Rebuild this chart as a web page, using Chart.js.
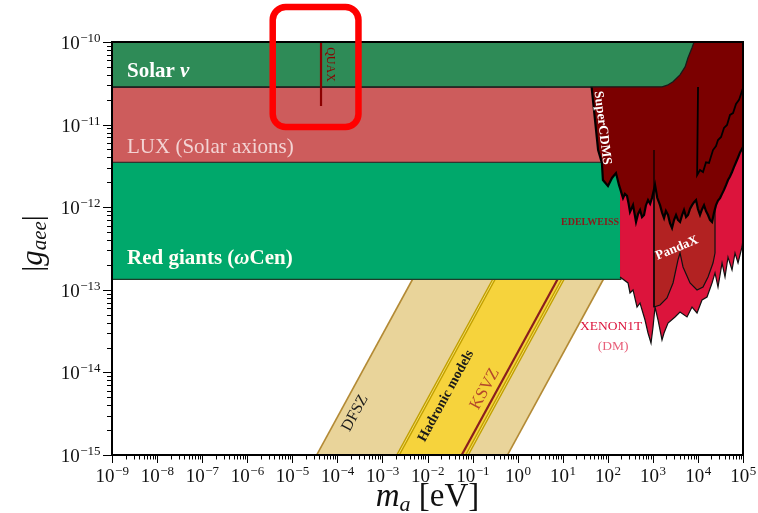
<!DOCTYPE html>
<html>
<head>
<meta charset="utf-8">
<script src="https://cdn.jsdelivr.net/npm/chart.js@4.4.1/dist/chart.umd.min.js"></script>
<style>
  html, body { margin: 0; padding: 0; background: #ffffff; }
  #wrap { width: 758px; height: 513px; }
</style>
</head>
<body>
<div id="wrap"><canvas id="c" width="758" height="513"></canvas></div>
<script>
// ---- axis ranges and tick decades ----
const massRange = [1e-9, 1e5];          // m_a [eV]
const couplingRange = [1e-15, 1e-10];   // |g_aee|
const massDecades = [-9, -8, -7, -6, -5, -4, -3, -2, -1, 0, 1, 2, 3, 4, 5];
const couplingDecades = [-15, -14, -13, -12, -11, -10];

// ---- QCD axion bands: edges as [m_a, g_aee] (g ∝ m_a) ----
const dfszLow = [[3.48e-6, 1e-16], [5.22e-3, 1.5e-13]];
const dfszHigh = [[0.0596, 1e-16], [89.4, 1.5e-13]];
const hadronicLow = [[2.22e-4, 1e-16], [0.333, 1.5e-13]];
const hadronicHigh = [[7.53e-3, 1e-16], [11.3, 1.5e-13]];
const ksvzLine = [[5.74e-3, 1e-16], [8.61, 1.5e-13]];

// ---- astrophysical bounds ----
const solarNu = [
  [5e-10, 1.2e-10], [5e-10, 2.85e-11], [1600, 2.87e-11], [2100, 3.0e-11],
  [2800, 3.3e-11], [4000, 4.0e-11], [5200, 5.0e-11], [6000, 6.4e-11],
  [7400, 8.5e-11], [8200, 1.0e-10], [8600, 1.2e-10]
];
const luxSolar = [[5e-10, 2.85e-11], [150, 2.85e-11], [150, 3.5e-12], [5e-10, 3.5e-12], [5e-10, 2.85e-11]];
const redGiants = [[5e-10, 3.5e-12], [195, 3.5e-12], [195, 1.34e-13], [5e-10, 1.34e-13], [5e-10, 3.5e-12]];

// ---- haloscope ----
const quax = [[4.34e-5, 1.2e-10], [4.34e-5, 1.68e-11]];

// ---- direct detection (dark matter) ----
const superCDMS = [
  [34, 1.1e-10], [44, 2.77e-11], [61, 4.92e-12], [74, 3.43e-12], [78, 2.13e-12],
  [101, 1.81e-12], [124, 2.26e-12], [152, 2.59e-12], [177, 1.86e-12], [218, 1.29e-12],
  [240, 1.45e-12], [267, 1.37e-12], [290, 1.1e-12], [311, 8.75e-13], [363, 1.06e-12],
  [395, 8.2e-13], [423, 6.62e-13], [470, 8.3e-13], [519, 9.25e-13], [575, 7.6e-13],
  [637, 8.05e-13], [700, 1.05e-12], [781, 1.22e-12], [870, 1.1e-12], [957, 1.29e-12],
  [1117, 1.86e-12], [1250, 1.3e-12], [1443, 1.06e-12], [1600, 8.6e-13], [1770, 7.4e-13],
  [1950, 9.0e-13], [2170, 8.05e-13], [2400, 6.4e-13], [2661, 5.6e-13], [2950, 7.0e-13],
  [3266, 8.05e-13], [3600, 7.0e-13], [4009, 6.62e-13], [4450, 8.0e-13], [4912, 9.25e-13],
  [5450, 7.6e-13], [6026, 8.05e-13], [6700, 9.6e-13], [7396, 1.06e-12], [8200, 1.15e-12],
  [9080, 1.22e-12], [10000, 9.5e-13], [11120, 8.05e-13], [12300, 9.4e-13], [13650, 1.06e-12],
  [15100, 9.0e-13], [16750, 8.05e-13], [18500, 7.0e-13], [20560, 6.62e-13], [22800, 8.6e-13],
  [25200, 1.06e-12], [27900, 1.2e-12], [30900, 1.29e-12], [34300, 1.45e-12], [37900, 1.62e-12],
  [42000, 1.85e-12], [46500, 2.13e-12], [51500, 2.35e-12], [57100, 2.67e-12], [63000, 3.05e-12],
  [70000, 3.5e-12], [77600, 4.0e-12], [85900, 4.6e-12], [1e5, 5.36e-12],
  [1.2e5, 5.36e-12], [1.2e5, 1.2e-10]
];
const xenonUpper = [
  [10050, 2.85e-11], [9600, 2.45e-12], [11120, 2.82e-12], [12970, 2.67e-12], [15100, 3.5e-12],
  [17620, 3.43e-12], [21600, 4.92e-12], [25200, 5.5e-12], [27900, 6.5e-12], [32600, 7.08e-12],
  [37900, 9.1e-12], [44200, 9.89e-12], [51500, 1.31e-11], [60100, 1.38e-11], [70000, 1.78e-11],
  [81600, 1.99e-11], [1e5, 2.77e-11]
];
const pandaX = [
  [1060, 4.92e-12], [1060, 6.19e-14], [1443, 6.55e-14], [2061, 7.96e-14], [2803, 1.21e-13],
  [3614, 2.3e-13], [4009, 2.79e-13], [4670, 1.89e-13], [6683, 1.21e-13], [9550, 9.95e-14],
  [12970, 1.08e-13], [16750, 1.43e-13], [21600, 2.11e-13], [23930, 2.79e-13], [23930, 4.92e-12]
];
const xenon1T = [
  [187, 4.92e-12], [187, 1.43e-13], [281, 1.21e-13], [311, 9.15e-14], [363, 9.95e-14],
  [445, 6.19e-14], [519, 6.92e-14], [670, 4.31e-14], [781, 3.0e-14], [910, 2.27e-14],
  [1009, 3.55e-14], [1117, 6.19e-14], [1303, 4.31e-14], [1596, 2.47e-14], [1770, 3.0e-14],
  [2170, 3.96e-14], [3104, 4.69e-14], [4009, 5.38e-14], [5728, 4.69e-14], [7396, 6.19e-14],
  [9550, 5.24e-14], [12330, 7.53e-14], [15920, 8.18e-14], [20560, 1.21e-13], [23930, 1.6e-13],
  [27900, 1.08e-13], [34300, 2.11e-13], [39900, 1.43e-13], [46500, 2.49e-13], [57100, 1.74e-13],
  [66500, 2.79e-13], [77600, 2.11e-13], [95000, 3.3e-13], [1e5, 4.01e-13],
  [1.2e5, 4.01e-13], [1.2e5, 4.92e-12]
];

// ---- colours ----
const C = {
  tan: '#E9D49A', tanEdge: '#B38A35', yellow: '#F6D33C', yellowEdge: '#C2A000',
  ksvz: '#8A1E1E', solar: '#2E8B57', lux: '#CD5C5C', rg: '#00A86B',
  maroon: '#7B0000', panda: '#B22222', xenon: '#DC143C', quax: '#8B0000'
};
const SERIF = '"Liberation Serif", "Times New Roman", serif';

const pts = arr => arr.map(([m, g]) => ({ x: m, y: g }));
const area = (arr, color, border, width) => ({
  data: pts(arr), showLine: true, fill: 'shape', backgroundColor: color,
  borderColor: border || 'rgba(0,0,0,0)', borderWidth: width || 0,
  pointRadius: 0, tension: 0, clip: 0
});
const edge = (arr, color, width) => ({
  data: pts(arr), showLine: true, fill: false, borderColor: color,
  borderWidth: width, pointRadius: 0, tension: 0, clip: 0
});

// back to front
const layers = [
  area([...dfszLow, ...dfszHigh.slice().reverse()], C.tan),
  area([...hadronicLow, ...hadronicHigh.slice().reverse()], C.yellow),
  edge(dfszLow, C.tanEdge, 1.6),
  edge(dfszHigh, C.tanEdge, 1.6),
  edge(hadronicLow, C.yellowEdge, 3.6),
  edge(hadronicLow, '#F3DC6A', 1.0),
  edge(hadronicHigh, C.yellowEdge, 3.6),
  edge(hadronicHigh, '#F3DC6A', 1.0),
  edge(ksvzLine, C.ksvz, 2.2),
  area(redGiants, C.rg, '#1d3d2a', 1.2),
  area(luxSolar, C.lux, '#2a2a2a', 1.2),
  area(xenon1T, C.xenon),
  edge(xenon1T.slice(1, -2), '#111', 1.2),
  area(pandaX, C.panda),
  edge(pandaX, '#111', 1.2),
  area(superCDMS, C.maroon),
  edge(superCDMS.slice(0, -2), '#000', 2.2),
  edge(pandaX.slice(0, 2), '#000', 1.2),
  edge(xenonUpper, '#000', 1.8),
  area(solarNu, C.solar, '#1a1a1a', 1.3),
  edge(quax, C.quax, 2.2)
];
layers.forEach((d, i) => { d.order = layers.length - i; });

// text placed at [m_a, g_aee]
const labels = [
  { at: [2.15e-9, 3.77e-11], align: 'left', parts: [['Solar ', 'bold 21px', '#ffffff'], ['ν', 'bold italic 21px', '#ffffff']] },
  { at: [2.15e-9, 4.59e-12], align: 'left', parts: [['LUX (Solar axions)', '21px', '#F3D3D3']] },
  { at: [2.15e-9, 2.05e-13], align: 'left', parts: [['Red giants (', 'bold 21px', '#FFFFF5'], ['ω', 'bold italic 21px', '#FFFFF5'], ['Cen)', 'bold 21px', '#FFFFF5']] },
  { at: [6.87e-5, 5.34e-11], rot: 90, parts: [['QUAX', '12px', C.quax]] },
  { at: [76, 9.1e-12], rot: 83, parts: [['SuperCDMS', 'bold 13.5px', '#ffffff']] },
  { at: [40.4, 6.62e-13], parts: [['EDELWEISS', 'bold 10px', '#8B1A1A']] },
  { at: [3436, 3.2e-13], rot: -22.5, parts: [['PandaX', 'bold 13px', '#ffffff']] },
  { at: [118, 3.55e-14], parts: [['XENON1T', '13.5px', C.xenon]] },
  { at: [131, 2.09e-14], parts: [['(DM)', '13.5px', '#E8607A']] },
  { at: [2.47e-4, 3.22e-15], rot: -61.4, parts: [['DFSZ', '16px', '#1a1a1a']] },
  { at: [0.0258, 5.18e-15], rot: -61.4, parts: [['Hadronic models', 'bold 14px', '#1a1a1a']] },
  { at: [0.189, 6.3e-15], rot: -61.4, parts: [['KSVZ', '17px', '#B4472B']] }
];
// highlight frame around QUAX: [m_left, m_right, g_top, g_bottom]
const highlightBox = [3.68e-6, 2.94e-4, 2.65e-10, 9.35e-12];

function drawParts(ctx, parts, x, y, align, rot, baseline) {
  ctx.save();
  ctx.translate(x, y);
  if (rot) ctx.rotate(rot * Math.PI / 180);
  ctx.textBaseline = baseline;
  let total = 0;
  const w = parts.map(p => { ctx.font = p[1] + ' ' + SERIF; const v = ctx.measureText(p[0]).width; total += v; return v; });
  let cx = align === 'left' ? 0 : align === 'right' ? -total : -total / 2;
  parts.forEach((p, i) => {
    ctx.font = p[1] + ' ' + SERIF;
    ctx.fillStyle = p[2];
    ctx.fillText(p[0], cx, p[3] || 0);
    cx += w[i];
  });
  ctx.restore();
}

function powLabel(ctx, exp, x, yBase, align) {
  const base = '10', sup = (exp < 0 ? '\u2212' : '') + Math.abs(exp);
  ctx.font = '19px ' + SERIF; const wb = ctx.measureText(base).width;
  ctx.font = '13px ' + SERIF; const ws = ctx.measureText(sup).width;
  const total = wb + ws;
  const x0 = align === 'right' ? x - total : x - total / 2;
  ctx.fillStyle = '#111';
  ctx.textBaseline = 'alphabetic';
  ctx.font = '19px ' + SERIF; ctx.fillText(base, x0, yBase);
  ctx.font = '13px ' + SERIF; ctx.fillText(sup, x0 + wb + 0.5, yBase - 7);
}

const decorations = {
  id: 'decorations',
  afterDatasetsDraw(chart) {
    const { ctx, chartArea: a, scales: { x, y } } = chart;
    const px = v => x.getPixelForValue(v), py = v => y.getPixelForValue(v);

    // region labels
    ctx.save();
    ctx.beginPath(); ctx.rect(a.left, a.top, a.right - a.left, a.bottom - a.top); ctx.clip();
    labels.forEach(l => {
      const align = l.align || 'center';
      drawParts(ctx, l.parts, px(l.at[0]), py(l.at[1]), align, l.rot || 0, align === 'left' ? 'alphabetic' : 'middle');
    });
    ctx.restore();

    // frame
    ctx.save();
    ctx.strokeStyle = '#000'; ctx.lineWidth = 2;
    ctx.strokeRect(a.left, a.top, a.right - a.left, a.bottom - a.top);

    // ticks
    ctx.lineWidth = 1;
    ctx.beginPath();
    massDecades.forEach(e => {
      for (let k = 1; k <= 9; k++) {
        const v = k * Math.pow(10, e);
        if (v > massRange[1] * 1.0001) break;
        const X = Math.round(px(v)) + 0.5;
        ctx.moveTo(X, a.bottom); ctx.lineTo(X, a.bottom + (k === 1 ? 8 : 4.5));
      }
    });
    couplingDecades.forEach(e => {
      for (let k = 1; k <= 9; k++) {
        const v = k * Math.pow(10, e);
        if (v > couplingRange[1] * 1.0001) break;
        const Y = Math.round(py(v)) + 0.5;
        ctx.moveTo(a.left, Y); ctx.lineTo(a.left - (k === 1 ? 9 : 5), Y);
      }
    });
    ctx.stroke();

    // tick labels
    massDecades.forEach(e => powLabel(ctx, e, px(Math.pow(10, e)), a.bottom + 27, 'center'));
    couplingDecades.forEach(e => powLabel(ctx, e, a.left - 12, py(Math.pow(10, e)) + 7, 'right'));

    // axis titles
    drawParts(ctx, [['m', 'italic 33px', '#111'], ['a', 'italic 22px', '#111', 5], [' [eV]', '33px', '#111']],
      (a.left + a.right) / 2, a.bottom + 51, 'center', 0, 'alphabetic');
    drawParts(ctx, [['|', '30px', '#111'], ['g', 'italic 31px', '#111'], ['aee', 'italic 21px', '#111', 6], ['|', '30px', '#111']],
      34, (a.top + a.bottom) / 2 - 5, 'center', -90, 'middle');

    // highlight frame
    const [m0, m1, g0, g1] = highlightBox;
    const bx0 = px(m0), bx1 = px(m1), by0 = py(g0), by1 = py(g1), r = 13;
    ctx.strokeStyle = '#FF0000'; ctx.lineWidth = 6.5;
    ctx.beginPath();
    ctx.moveTo(bx0 + r, by0);
    ctx.arcTo(bx1, by0, bx1, by1, r);
    ctx.arcTo(bx1, by1, bx0, by1, r);
    ctx.arcTo(bx0, by1, bx0, by0, r);
    ctx.arcTo(bx0, by0, bx1, by0, r);
    ctx.closePath();
    ctx.stroke();
    ctx.restore();
  }
};

new Chart(document.getElementById('c').getContext('2d'), {
  type: 'scatter',
  data: { datasets: layers },
  options: {
    responsive: false,
    animation: false,
    devicePixelRatio: 1,
    events: [],
    layout: { padding: { left: 112, top: 42, right: 15, bottom: 58 } },
    plugins: { legend: { display: false }, tooltip: { enabled: false } },
    scales: {
      x: { type: 'logarithmic', min: massRange[0], max: massRange[1], display: false },
      y: { type: 'logarithmic', min: couplingRange[0], max: couplingRange[1], display: false }
    }
  },
  plugins: [decorations]
});
</script>
</body>
</html>
